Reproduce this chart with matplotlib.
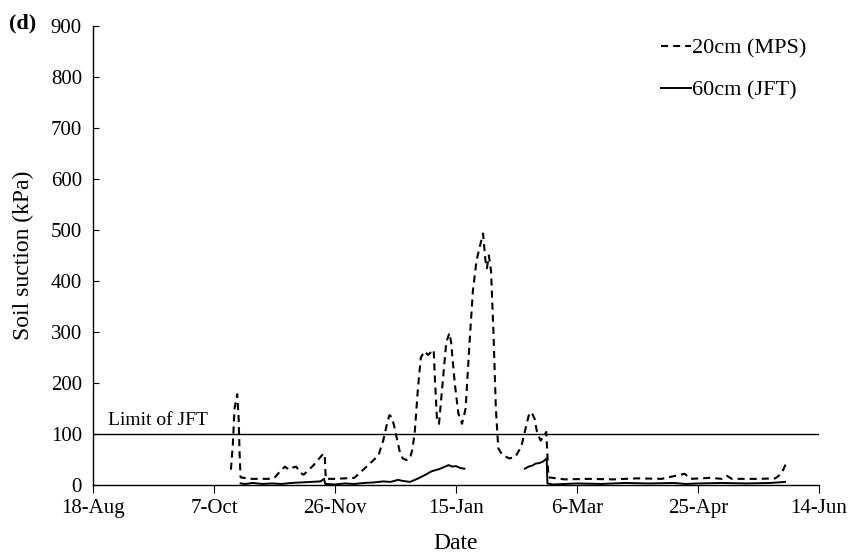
import numpy as np
import matplotlib.pyplot as plt

plt.rcParams['font.family'] = ['Liberation Serif', 'DejaVu Serif']

# Days counted from 18-Aug; suction in kPa
tick_days = [0, 50, 100, 150, 200, 250, 300]
tick_labels = ['18-Aug', '7-Oct', '26-Nov', '15-Jan', '6-Mar', '25-Apr', '14-Jun']

mps_days = [57, 57.8, 58.5, 59.6, 60.2, 60.6, 61, 65, 72.5, 75, 77, 79.3, 81,
            82.5, 84, 85.5, 87, 91, 95.3, 95.8, 96.2, 100, 108, 114, 118, 120,
            121.5, 122.5, 123.5, 124.5, 126.7, 128, 129.5, 131, 132, 133,
            134.3, 135.5, 137, 138.5, 140, 140.8, 141.3, 142.2, 143, 144.5,
            146, 147.3, 148, 149.5, 151, 152.5, 154, 155.5, 157, 158.5, 160,
            161.2, 162.2, 162.8, 163.6, 164.5, 165.5, 166.5, 167.5, 169, 172,
            174.5, 177, 179, 180, 180.8, 181.7, 182.5, 183.5, 185, 186.3,
            187.3, 187.8, 188.2, 195, 205, 215, 225, 235, 244.5, 247, 255, 260,
            262, 264, 275, 282, 284.5, 286.5]
mps_kpa = [30, 80, 150, 178, 130, 60, 15, 12, 12, 14, 25, 36, 30,
           34, 36, 25, 20, 38, 62, 55, 12, 12, 14, 40, 58, 88,
           120, 137, 133, 115, 67, 52, 49, 52, 70, 105,
           190, 250, 262, 255, 262, 265, 210, 125, 120, 200,
           280, 298, 280, 200, 140, 120, 150, 270, 380, 440, 470,
           493, 440, 425, 450, 420, 300, 150, 72, 60, 52,
           55, 75, 115, 135, 143, 138, 130, 104, 87, 95,
           104, 60, 15, 11, 12, 11, 13, 12, 22, 12, 14, 12,
           18, 12, 12, 13, 22, 43]

jft_days = [61, 63, 66, 70, 74, 78, 82, 86, 90, 94, 95.5, 96, 100, 104, 108,
            112, 116, 120, 123, 126, 128, 131, 134, 137, 140, 143, 145, 147,
            148.5, 150, 152, 153.5, 165, 178.5, 180, 181.5, 183, 184.5, 186,
            187.5, 187.8, 190, 195, 200, 210, 220, 230, 240, 245, 250, 260,
            270, 280, 286]
jft_kpa = [3, 2, 4, 2, 3, 2, 4, 5, 6, 7, 12, 2, 1, 3, 2,
           4, 5, 7, 6, 10, 8, 6, 12, 19, 27, 31, 35, 39,
           36, 37, 33, 32, np.nan, 32, 36, 38, 42, 43, 46,
           52, 3, 1, 2, 3, 2, 4, 3, 4, 2, 3, 4,
           3, 4, 6]

jft_limit = 100

fig = plt.figure(figsize=(8.5, 5.53), dpi=100)
ax = fig.add_axes([0.1094, 0.123, 0.854, 0.830])

ax.plot(mps_days, mps_kpa, color='black', lw=1.5, linestyle=(0, (3.4, 2.4)),
        label='20cm (MPS)')
ax.plot(jft_days, jft_kpa, color='black', lw=1.4, label='60cm (JFT)')
ax.axhline(jft_limit, color='black', lw=1.0)
ax.text(6, jft_limit + 10, 'Limit of JFT', fontsize=14, ha='left', va='bottom')

ax.set_xlim(0, 300)
ax.set_ylim(0, 900)
ax.set_xticks(tick_days)
ax.set_xticklabels(tick_labels)
ax.set_yticks(range(0, 901, 100))
ax.tick_params(axis='x', direction='out', length=6, labelsize=15, pad=4)
ax.tick_params(axis='y', direction='in', length=4, labelsize=15, pad=8)
for side in ['top', 'right']:
    ax.spines[side].set_visible(False)
for side in ['left', 'bottom']:
    ax.spines[side].set_linewidth(1.0)

ax.set_xlabel('Date', fontsize=17, labelpad=11)
ax.set_ylabel('Soil suction (kPa)', fontsize=17, labelpad=12)

ax.legend(loc='upper right', bbox_to_anchor=(1.011, 1.017), frameon=False,
          fontsize=16, handlelength=1.35, handletextpad=0.05,
          labelspacing=0.95)

fig.text(0.010, 0.958, '(d)', fontsize=16, fontweight='bold', va='center')

fig.savefig('out.png', dpi=100)
